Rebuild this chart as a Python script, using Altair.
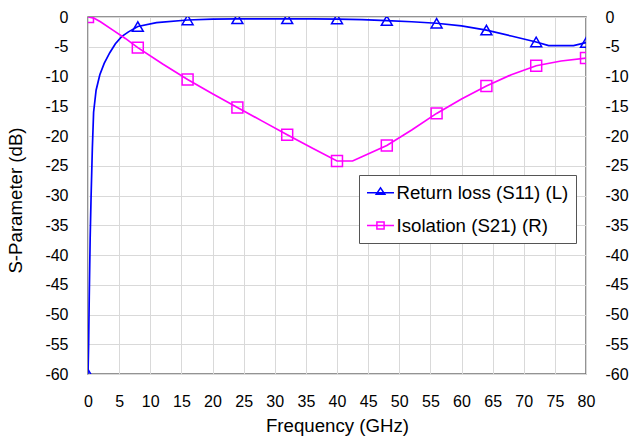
import altair as alt
import pandas as pd

# ---- data ----
freq_s11 = [0, 0.1, 0.2, 0.35, 0.5, 0.7, 0.9, 1.3, 1.9, 2.6, 3.5, 4.4, 5.4, 6.5, 8,
            11, 16, 20, 24, 28, 32, 36, 40, 44, 48, 52, 56, 60, 64, 68, 72, 74, 78, 80]
s11 = [-60, -55, -47, -37, -30, -22, -16, -12.3, -9.7, -7.8, -6.0, -4.5, -3.3, -2.5, -1.6,
       -0.95, -0.5, -0.35, -0.3, -0.3, -0.3, -0.3, -0.35, -0.45, -0.6, -0.8, -1.05, -1.5,
       -2.2, -3.2, -4.2, -4.8, -4.8, -4.3]

freq_s21 = [0, 1, 2, 4, 6, 8, 12, 16, 20, 24, 28, 32, 36, 40, 42.5, 44, 48, 52, 56, 60,
            64, 68, 72, 76, 80]
s21 = [0, -0.2, -0.8, -2.2, -3.6, -5.15, -7.9, -10.5, -12.9, -15.2, -17.5, -19.8, -22.0,
       -24.2, -24.2, -23.5, -21.6, -19.0, -16.2, -13.8, -11.6, -9.7, -8.2, -7.4, -6.9]

series_names = ["Return loss (S11) (L)", "Isolation (S21) (R)"]
x_ticks = list(range(0, 81, 5))
y_ticks = list(range(-60, 1, 5))

FONT = "Liberation Sans"
BLUE = "#0000FF"
PINK = "#FF00FF"
GRID = "#D9D9D9"

df11 = pd.DataFrame({"f": freq_s11, "db": s11})
df21 = pd.DataFrame({"f": freq_s21, "db": s21})
df_leg = pd.DataFrame({"series": series_names})

x_axis = alt.Axis(values=x_ticks, title="Frequency (GHz)", labelPadding=19, ticks=False,
                  domain=False, grid=True, gridColor=GRID, gridWidth=1,
                  labelFont=FONT, labelFontSize=16, labelColor="black", labelFlush=False,
                  labelOverlap=False, titleFont=FONT, titleFontSize=18.67,
                  titleFontWeight="normal", titleColor="black", titleBaseline="alphabetic",
                  titleY=57)
x_scale = alt.Scale(domain=[0, 80], nice=False, zero=False)
y_scale = alt.Scale(domain=[-60, 0], nice=False, zero=False)

left_axis = alt.Axis(values=y_ticks, title="S-Parameter (dB)", orient="left", labelPadding=20,
                     ticks=False, domain=False, grid=True, gridColor=GRID, gridWidth=1,
                     labelFont=FONT, labelFontSize=16, labelColor="black",
                     labelExpr="datum.value + ''", labelFlush=False, labelOverlap=False,
                     titleFont=FONT, titleFontSize=18.67, titleFontWeight="normal",
                     titleColor="black", titleAngle=270, titleAlign="center",
                     titleBaseline="alphabetic", titleX=-67, titleY=183)
right_axis = alt.Axis(values=y_ticks, title=None, orient="right", labelPadding=19,
                      ticks=False, domain=False, grid=False,
                      labelFont=FONT, labelFontSize=16, labelColor="black",
                      labelExpr="datum.value + ''", labelFlush=False, labelOverlap=False)

X = alt.X("f:Q", scale=x_scale, axis=x_axis)

# left (S11)
line11 = alt.Chart(df11).mark_line(color=BLUE, strokeWidth=1.7, clip=True).encode(
    x=X, y=alt.Y("db:Q", scale=y_scale, axis=left_axis))
mark11 = alt.Chart(df11).transform_filter("datum.f % 8 == 0").mark_point(
    shape="triangle-up", size=120, filled=False, strokeWidth=1.5, color=BLUE, opacity=1,
    clip=True).encode(x=X, y=alt.Y("db:Q", scale=y_scale, axis=left_axis))

tri_path = "M-1.5,0H1.5M-0.48,0.18L0,-0.54L0.48,0.18Z"
sq_path = "M-1.5,0H1.5M-0.4,-0.4H0.4V0.4H-0.4Z"
leg_props = dict(title=None, orient="none", legendX=271, legendY=158, padding=7.7,
                 rowPadding=12.8, labelFont=FONT, labelFontSize=18.67, labelColor="black",
                 labelLimit=400, labelOffset=6, symbolOffset=3.8, symbolSize=324,
                 symbolStrokeWidth=1.5, strokeColor="#555555", fillColor="white")
legend_layer = alt.Chart(df_leg).transform_filter("false").mark_point(
    filled=False, size=324, opacity=1, strokeWidth=1.5).encode(
    color=alt.Color("series:N", scale=alt.Scale(domain=series_names, range=[BLUE, PINK]),
                    legend=alt.Legend(**leg_props)),
    shape=alt.Shape("series:N", scale=alt.Scale(domain=series_names, range=[tri_path, sq_path]),
                    legend=alt.Legend(**leg_props)))

left = alt.layer(line11, mark11, legend_layer)

# right (S21)
line21 = alt.Chart(df21).mark_line(color=PINK, strokeWidth=1.7, clip=True).encode(
    x=X, y=alt.Y("db:Q", scale=y_scale, axis=right_axis))
mark21 = alt.Chart(df21).transform_filter("datum.f % 8 == 0").mark_point(
    shape="square", size=120, filled=False, strokeWidth=1.5, color=PINK, opacity=1,
    clip=True).encode(x=X, y=alt.Y("db:Q", scale=y_scale, axis=right_axis))
right = alt.layer(line21, mark21)

chart = alt.layer(left, right).resolve_scale(y="independent").properties(
    width=498, height=357,
    autosize=alt.AutoSizeParams(type="none"),
    padding={"left": 88, "top": 17, "right": 44, "bottom": 64},
    background="white",
).configure_view(stroke="#707070", strokeWidth=1.5)

chart.save("out.html", embed_options={"renderer": "svg", "actions": False})
